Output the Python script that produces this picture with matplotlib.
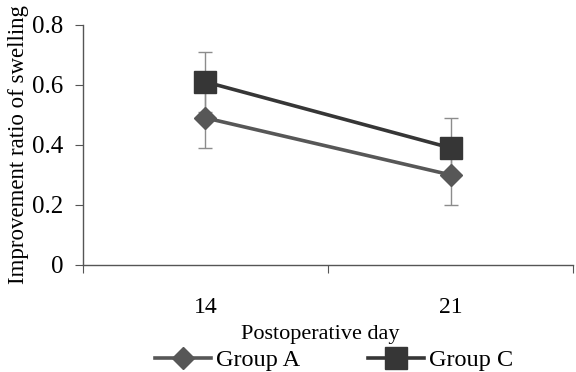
import matplotlib
matplotlib.use("Agg")
from matplotlib import pyplot as plt
from matplotlib.lines import Line2D

days = ["14", "21"]
group_a = [0.49, 0.30]
group_a_err = [0.10, 0.10]
group_c = [0.61, 0.39]
group_c_err = [0.10, 0.10]

plt.rcParams["font.family"] = ["Liberation Serif", "DejaVu Serif"]

fig = plt.figure(figsize=(5.76, 3.72), dpi=100)
ax = fig.add_axes([0.144, 0.288, 0.851, 0.645])

x = list(range(len(days)))
col_a = "#575757"
col_c = "#363636"
err_col = "#8c8c8c"

ax.errorbar(x, group_a, yerr=group_a_err, fmt="none", ecolor=err_col,
            elinewidth=1, capsize=5, capthick=1, zorder=1)
ax.errorbar(x, group_c, yerr=group_c_err, fmt="none", ecolor=err_col,
            elinewidth=1, capsize=5, capthick=1, zorder=1)
ax.plot(x, group_a, color=col_a, lw=2.6, marker="D", ms=11, zorder=3)
ax.plot(x, group_c, color=col_c, lw=2.6, marker="s", ms=15.5, zorder=4)

ax.set_xlim(-0.5, len(days) - 0.5)
ax.set_ylim(0, 0.8)
ax.set_yticks([0, 0.2, 0.4, 0.6, 0.8])
ax.set_yticklabels(["0", "0.2", "0.4", "0.6", "0.8"])

# Excel-style category axis: ticks between categories, labels at centres
ax.set_xticks([-0.5, 0.5, 1.5])
ax.set_xticklabels([])
ax.set_xticks(x, minor=True)
ax.set_xticklabels(days, minor=True)
ax.tick_params(axis="x", which="major", direction="out", length=6, color="#555555")
ax.tick_params(axis="x", which="minor", length=0, pad=23, labelsize=17)
ax.tick_params(axis="y", direction="out", length=6, pad=8, color="#555555", labelsize=18)

for s in ["top", "right"]:
    ax.spines[s].set_visible(False)
for s in ["left", "bottom"]:
    ax.spines[s].set_color("#555555")
    ax.spines[s].set_linewidth(1)

ax.set_xlabel("Postoperative day", fontsize=16, labelpad=5)
ax.xaxis.label.set_x(0.484)
ax.set_ylabel("Improvement ratio of swelling", fontsize=16.5, labelpad=2)

handles = [
    Line2D([], [], color=col_a, lw=2.6, marker="D", ms=11),
    Line2D([], [], color=col_c, lw=2.6, marker="s", ms=15.5),
]
fig.legend(handles, ["Group A", "Group C"], loc="center", ncol=2,
           bbox_to_anchor=(0.58, 0.032), frameon=False, fontsize=17.5,
           handlelength=2.3, handletextpad=0.2, columnspacing=2.8,
           borderpad=0.1)

fig.savefig("out.png", dpi=100)
